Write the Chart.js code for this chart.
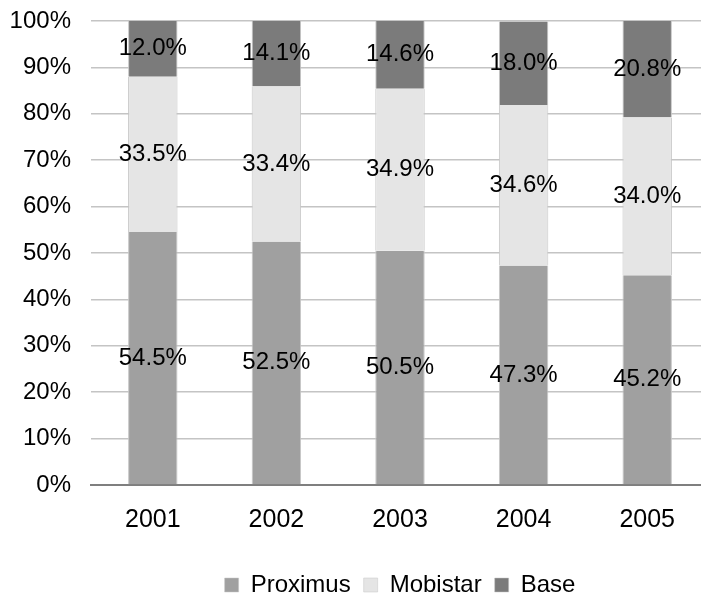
<!DOCTYPE html>
<html>
<head>
  <script src="https://cdn.jsdelivr.net/npm/chart.js"></script>
  <style>
    html, body { margin: 0; padding: 0; background: #fff; }
    #wrap { width: 701px; height: 599px; overflow: hidden; }
    #inner { width: 709px; height: 599px; }
  </style>
</head>
<body>
  <div id="wrap"><div id="inner"><canvas id="shareChart"></canvas></div></div>

  <script>
    // Market share per year (percent)
    var years = ['2001', '2002', '2003', '2004', '2005'];
    var proximus = [54.5, 52.5, 50.5, 47.3, 45.2];
    var mobistar = [33.5, 33.4, 34.9, 34.6, 34.0];
    var base = [12.0, 14.1, 14.6, 18.0, 20.8];
    var yTicks = [0, 10, 20, 30, 40, 50, 60, 70, 80, 90, 100];

    var fontFamily = '"Liberation Sans", Arial, sans-serif';
    Chart.defaults.font.family = fontFamily;
    Chart.defaults.font.size = 24;
    Chart.defaults.color = '#000';

    // Draws the value in the middle of every bar segment
    var segmentLabels = {
      id: 'segmentLabels',
      afterDatasetsDraw: function(chart) {
        var ctx = chart.ctx;
        ctx.save();
        ctx.font = '24px ' + fontFamily;
        ctx.fillStyle = '#000';
        ctx.textAlign = 'center';
        ctx.textBaseline = 'middle';
        chart.data.datasets.forEach(function(ds, i) {
          var meta = chart.getDatasetMeta(i);
          meta.data.forEach(function(bar, j) {
            var p = bar.getCenterPoint();
            ctx.fillText(ds.data[j].toFixed(1) + '%', p.x, p.y);
          });
        });
        ctx.restore();
      }
    };

    function barSet(label, values, color) {
      return {
        label: label,
        data: values,
        backgroundColor: color,
        borderColor: '#c6c6c6',
        borderWidth: { left: 1, right: 1, top: 0, bottom: 0 },
        barPercentage: 0.4,
        categoryPercentage: 1
      };
    }

    new Chart(document.getElementById('shareChart'), {
      type: 'bar',
      data: {
        labels: years,
        datasets: [
          barSet('Proximus', proximus, '#a0a0a0'),
          barSet('Mobistar', mobistar, '#e5e5e5'),
          barSet('Base', base, '#7b7b7b')
        ]
      },
      options: {
        responsive: true,
        maintainAspectRatio: false,
        animation: false,
        layout: { padding: { top: 21, right: 0, bottom: -8, left: 0 } },
        scales: {
          x: {
            stacked: true,
            afterFit: function(s) { s.height = 75; },
            grid: { display: false, drawTicks: false },
            border: { display: true, color: '#7f7f7f', width: 2 },
            ticks: { padding: 20, color: '#000', font: { size: 25 } }
          },
          y: {
            stacked: true,
            min: 0,
            max: 100,
            afterFit: function(s) {
              s.width = 91;
              s.paddingTop = 0;
              s.paddingBottom = 0;
            },
            afterBuildTicks: function(s) {
              s.ticks = yTicks.map(function(v) { return { value: v }; });
            },
            grid: { color: '#c4c4c4', lineWidth: 1.5, drawTicks: false },
            border: { display: false },
            ticks: {
              padding: 20,
              color: '#000',
              callback: function(v) { return v + '%'; }
            }
          }
        },
        plugins: {
          legend: {
            position: 'bottom',
            fullSize: false,
            labels: {
              boxWidth: 14,
              boxHeight: 14,
              padding: 13,
              color: '#000',
              font: { size: 24 }
            }
          },
          tooltip: { enabled: false }
        }
      },
      plugins: [segmentLabels]
    });
  </script>
</body>
</html>
